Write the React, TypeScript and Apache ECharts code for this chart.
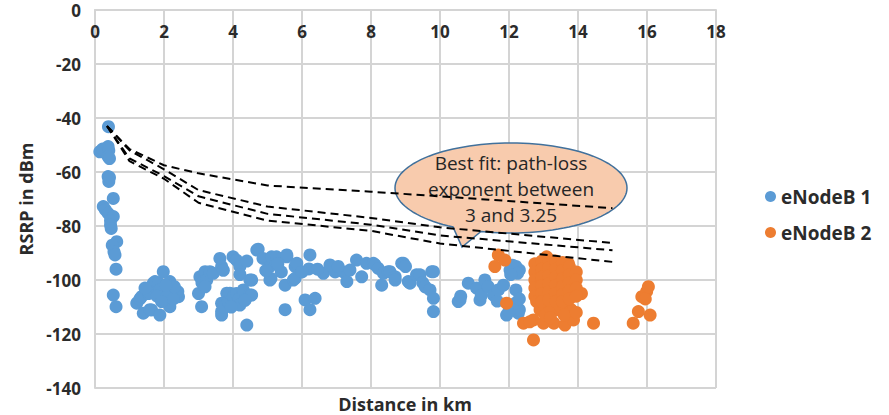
import React, { useEffect, useRef } from "react";
import * as echarts from "echarts";

// ---- Data ----
const seriesNames = ["eNodeB 1", "eNodeB 2"];

const enb1Column: number[][] = [
  [0.39, -43.2], [0.14, -52.5], [0.22, -51.5], [0.38, -50.6], [0.4, -52], [0.38, -54.3], [0.42, -55],
  [0.38, -61.7], [0.4, -63.5], [0.42, -62], [0.53, -69.8], [0.24, -72.8], [0.3, -74], [0.38, -75.3],
  [0.53, -76.5], [0.45, -78], [0.45, -79.6], [0.47, -80.9], [0.63, -85.8], [0.5, -87.1], [0.55, -89.5],
  [0.58, -90.7], [0.61, -96], [0.53, -105.6], [0.61, -109.9],
];
const enb1Near: number[][] = [
  [1.21, -108.6], [1.3, -107], [1.35, -106.2], [1.4, -112.3], [1.59, -111], [1.64, -111.1], [1.55, -105],
  [1.55, -104.3], [1.69, -101.2], [1.74, -100.6], [1.84, -101], [1.88, -103.7], [1.98, -96.9], [1.88, -113],
  [2.17, -100.6], [2.22, -104.3], [2.17, -109.9], [2.42, -106.2], [2.4, -104.3], [1.98, -107.4], [1.8, -106],
  [2.08, -106.2], [2.27, -107], [1.93, -108], [1.45, -103], [2.3, -102.5], [2.05, -102],
  [3.0, -105], [3.09, -109.9], [3.04, -98.8], [3.1, -101], [3.19, -96.9], [3.24, -100], [3.33, -96.9],
  [3.43, -97.5], [3.19, -102.5],
  [3.67, -108.6], [3.67, -111.7], [3.67, -113], [3.72, -110], [3.82, -104.9], [3.86, -108], [3.91, -104.9],
  [4.01, -106.2], [4.1, -105], [4.17, -107], [4.2, -109.3], [4.3, -103.7], [4.49, -105.6], [4.54, -105.6],
  [4.4, -116.7], [3.95, -110], [4.35, -107.5],
];
const enb1Band: number[][] = [
  [3.62, -92], [3.67, -95], [3.72, -96.4], [4.0, -91.4], [4.1, -92.6], [4.2, -95], [4.2, -98], [4.49, -100],
  [4.54, -100], [4.69, -88.9], [4.73, -88.6], [4.87, -92], [5.07, -95], [5.12, -91.4], [5.26, -91.4],
  [5.07, -100], [5.1, -99.4], [5.4, -97], [5.51, -101.9], [5.51, -111], [5.56, -91.4], [5.56, -90.7],
  [5.8, -95], [5.75, -100], [5.8, -99.4], [5.85, -93.8], [6.23, -90.7], [6.2, -95.9], [6.09, -107.4],
  [6.23, -111], [6.38, -106.8], [6.62, -97.5], [6.81, -94.4], [6.96, -97], [7.2, -97], [7.3, -100.6],
  [7.39, -96.3], [7.58, -92.6], [7.73, -98.8], [7.87, -93.8], [8.07, -93.8], [8.12, -94.4], [8.21, -95.7],
  [8.31, -101.9], [8.36, -97.5], [8.5, -96.9], [8.55, -96.9], [8.7, -98.8], [8.7, -100], [8.89, -93.8],
  [8.94, -93.8], [9.0, -95], [9.08, -100.6], [9.13, -101.2], [9.32, -98.1], [9.42, -98.1], [9.5, -101],
  [9.57, -102.5], [9.71, -103.7], [9.76, -96.9], [9.81, -96.9], [9.81, -106.8], [9.81, -111.7],
  [4.4, -93], [4.95, -96.5], [5.3, -94], [6.0, -97], [6.45, -96], [7.05, -95],
];
const enb1Far: number[][] = [
  [10.53, -108], [10.58, -107.4], [10.6, -106], [10.82, -101.2], [11.06, -103], [11.16, -107.4],
  [11.2, -105.6], [11.3, -100], [11.4, -102.5], [11.55, -105.6], [11.66, -107.8], [11.69, -103.7],
  [11.84, -101.9], [12.03, -96.3], [12.2, -95], [12.3, -96.3], [12.1, -94.5], [12.25, -97.5], [12.05, -98],
  [12.2, -103.7], [12.1, -109.9], [12.27, -112.3], [11.93, -113], [12.3, -111], [12.0, -111.5],
  [12.2, -108.5], [12.3, -107],
];

const enb2Scatter: number[][] = [
  [11.69, -90.7], [11.59, -95], [11.88, -92.6], [11.93, -108.6], [12.42, -116], [12.71, -114.8],
  [12.71, -122.2], [12.95, -109.9], [13.0, -116], [13.3, -116], [13.38, -111], [13.62, -116.7], [13.8, -111],
  [13.87, -114.8], [14.45, -116], [15.6, -116], [15.75, -111.7], [15.85, -106.2], [15.99, -104.3],
  [16.04, -102.5], [16.09, -113], [15.95, -107], [14.1, -105], [13.09, -91.4], [13.72, -93.8],
  [12.9, -111], [13.05, -113], [13.2, -110.5], [13.5, -110], [13.6, -113], [13.2, -114], [12.6, -115.5],
  [13.95, -112],
];
const enb2Block: number[][] = [
  [12.75, -94], [12.75, -97], [12.75, -100], [12.75, -103], [12.75, -106], [12.8, -108],
  [12.95, -93], [12.95, -96], [12.95, -99], [12.95, -102], [12.95, -105], [12.95, -108],
  [13.15, -92.5], [13.15, -95.5], [13.15, -98.5], [13.15, -101.5], [13.15, -104.5], [13.15, -107.5],
  [13.35, -93], [13.35, -96], [13.35, -99], [13.35, -102], [13.35, -105], [13.35, -108],
  [13.55, -93.5], [13.55, -96.5], [13.55, -99.5], [13.55, -102.5], [13.55, -105.5], [13.55, -108],
  [13.75, -95], [13.75, -98], [13.75, -101], [13.75, -104], [13.75, -107],
  [13.95, -97], [13.95, -100], [13.95, -103], [13.95, -106],
];

// Path-loss fit curves (dashed)
const fitTop: number[][] = [[0.35, -43], [1, -51.5], [2, -57.5], [3, -60.5], [5, -65], [8, -67.3], [10, -69], [15, -73.4]];
const fitA: number[][] = [[0.35, -43], [1, -52], [2, -59], [3, -66.7], [5, -72.8], [8, -77], [10, -80.5], [15, -86.3]];
const fitB: number[][] = [[0.35, -43], [1, -55], [2, -61.5], [3, -69], [5, -75.5], [8, -79.5], [10, -83.5], [15, -89]];
const fitC: number[][] = [[0.35, -43], [1, -56], [2, -62.5], [3, -71.4], [5, -78], [8, -81.8], [10, -86.5], [15, -93.3]];

const calloutLines = ["Best fit: path-loss", "exponent between", "3 and 3.25"];

const BLUE = "#5B9BD5";
const ORANGE = "#ED7D31";
const GRID = "#D4D4D4";
const TXT = "#2b2b2b";
const FONT = "'Open Sans', 'DejaVu Sans', sans-serif";

function calloutPoints(): number[][] {
  const cx = 511, cy = 188, rx = 116, ry = 45;
  const pts: number[][] = [];
  for (let a = 0; a < 360; a += 3) {
    if (a > 105 && a < 120) continue;
    const t = (a * Math.PI) / 180;
    pts.push([cx + rx * Math.cos(t), cy + ry * Math.sin(t)]);
    if (a === 105) pts.push([462, 247]);
  }
  return pts;
}

export default function App() {
  const ref = useRef<HTMLDivElement>(null);
  useEffect(() => {
    if (!ref.current) return;
    const chart = echarts.init(ref.current, undefined, { renderer: "svg" });
    const dashed = (name: string, data: number[][]) => ({
      type: "line",
      name,
      data,
      symbol: "none",
      z: 3,
      lineStyle: { color: "#000", width: 2, type: [8, 5] },
    });
    chart.setOption({
      animation: false,
      backgroundColor: "#fff",
      textStyle: { fontFamily: FONT },
      grid: { left: 95, right: 173, top: 10, bottom: 27 },
      legend: {
        data: seriesNames,
        orient: "vertical",
        left: 760,
        top: 182,
        itemGap: 17,
        itemWidth: 11,
        itemHeight: 11,
        icon: "circle",
        textStyle: { fontSize: 19, fontWeight: "bold", color: TXT, fontFamily: FONT },
      },
      xAxis: {
        type: "value",
        min: 0,
        max: 18,
        interval: 2,
        position: "top",
        axisLine: { lineStyle: { color: GRID, width: 2 } },
        axisTick: { show: false },
        axisLabel: { inside: true, margin: 13, fontSize: 17, fontWeight: "bold", color: TXT, fontFamily: FONT },
        splitLine: { lineStyle: { color: GRID, width: 2 } },
      },
      yAxis: {
        type: "value",
        min: -140,
        max: 0,
        interval: 20,
        name: "RSRP in dBm",
        nameLocation: "middle",
        nameGap: 58,
        nameTextStyle: { fontSize: 18, fontWeight: "bold", color: TXT, fontFamily: FONT },
        axisLine: { show: true, lineStyle: { color: GRID, width: 2 } },
        axisTick: { show: false },
        axisLabel: { margin: 14, fontSize: 17, fontWeight: "bold", color: TXT, fontFamily: FONT },
        splitLine: { lineStyle: { color: GRID, width: 2 } },
      },
      graphic: [
        {
          type: "polygon",
          z: 1,
          shape: { points: calloutPoints() },
          style: { fill: "#F8CBAD", stroke: "#41719C", lineWidth: 1.5 },
        },
        ...calloutLines.map((t, i) => ({
          type: "text",
          z: 1,
          x: 511,
          y: 163 + i * 26,
          style: {
            text: t,
            fill: "#262626",
            font: `19px ${FONT}`,
            textAlign: "center",
            textVerticalAlign: "middle",
          },
        })),
        {
          type: "text",
          x: 405,
          y: 404,
          style: {
            text: "Distance in km",
            fill: TXT,
            font: `bold 18px ${FONT}`,
            textAlign: "center",
            textVerticalAlign: "middle",
          },
        },
      ],
      series: [
        {
          type: "scatter",
          name: seriesNames[0],
          data: [...enb1Column, ...enb1Near, ...enb1Band, ...enb1Far],
          symbolSize: 13,
          itemStyle: { color: BLUE, opacity: 1 },
          z: 2,
        },
        {
          type: "scatter",
          name: seriesNames[1],
          data: [...enb2Scatter, ...enb2Block],
          symbolSize: 13,
          itemStyle: { color: ORANGE, opacity: 1 },
          z: 2,
        },
        dashed("fit1", fitTop),
        dashed("fit2", fitA),
        dashed("fit3", fitB),
        dashed("fit4", fitC),
      ],
    });
    return () => chart.dispose();
  }, []);
  return (
    <div
      ref={ref}
      style={{ position: "fixed", left: 0, top: 0, width: 889, height: 415, background: "#fff" }}
    />
  );
}
